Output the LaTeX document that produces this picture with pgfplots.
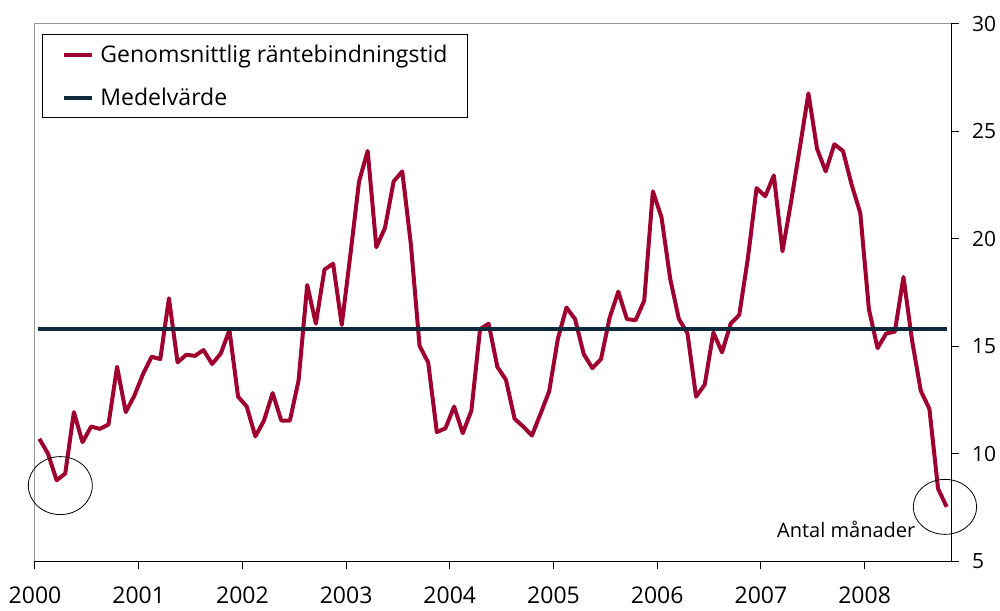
\documentclass[border=0pt]{standalone}
\usepackage{fontspec}
\setmainfont{Open Sans}
\usepackage{pgfplots}
\pgfplotsset{compat=1.18}
\usepackage{pgfplotstable}
\definecolor{wine}{HTML}{9E0030}
\definecolor{navy}{HTML}{0D2A3C}
\pgfplotstableread{
m y
0.5 10.69
1.5 10.00
2.5 8.76
3.5 9.07
4.5 11.93
5.5 10.53
6.5 11.26
7.5 11.15
8.5 11.35
9.5 14.04
10.5 11.93
11.5 12.70
12.5 13.70
13.5 14.51
14.5 14.40
15.5 17.23
16.5 14.25
17.5 14.60
18.5 14.55
19.5 14.82
20.5 14.17
21.5 14.66
22.5 15.75
23.5 12.65
24.5 12.19
25.5 10.80
26.5 11.54
27.5 12.82
28.5 11.54
29.5 11.54
30.5 13.40
31.5 17.85
32.5 16.05
33.5 18.57
34.5 18.84
35.5 15.99
36.5 19.27
37.5 22.67
38.5 24.09
39.5 19.61
40.5 20.51
41.5 22.67
42.5 23.14
43.5 19.73
44.5 15.02
45.5 14.24
46.5 11.00
47.5 11.18
48.5 12.19
49.5 10.95
50.5 12.00
51.5 15.79
52.5 16.05
53.5 14.04
54.5 13.43
55.5 11.62
56.5 11.26
57.5 10.84
58.5 11.85
59.5 12.90
60.5 15.33
61.5 16.80
62.5 16.26
63.5 14.63
64.5 13.98
65.5 14.40
66.5 16.33
67.5 17.54
68.5 16.26
69.5 16.21
70.5 17.12
71.5 22.21
72.5 21.00
73.5 18.15
74.5 16.28
75.5 15.60
76.5 12.65
77.5 13.21
78.5 15.64
79.5 14.71
80.5 16.05
81.5 16.46
82.5 19.11
83.5 22.36
84.5 21.98
85.5 22.95
86.5 19.42
87.5 21.74
88.5 24.22
89.5 26.77
90.5 24.19
91.5 23.14
92.5 24.40
93.5 24.09
94.5 22.52
95.5 21.20
96.5 16.72
97.5 14.91
98.5 15.59
99.5 15.68
100.5 18.22
101.5 15.25
102.5 12.93
103.5 12.08
104.5 8.37
105.5 7.52
}\rantedata
\begin{document}
\begin{tikzpicture}
\path[use as bounding box] (0,0) rectangle (1000pt,610pt);
\begin{axis}[
  at={(35pt,49pt)}, anchor=south west,
  scale only axis, width=916pt, height=537pt,
  xmin=0, xmax=106, ymin=5, ymax=30,
  axis x line*=bottom, axis y line*=right,
  axis line style={black, line width=1pt},
  xtick={0,12,24,36,48,60,72,84,96},
  xticklabels={2000,2001,2002,2003,2004,2005,2006,2007,2008},
  ytick={5,10,15,20,25,30},
  tick align=outside, major tick length=8pt,
  tick style={black, line width=1pt},
  minor tick num=0,
  /pgf/number format/assume math mode=true,
  ticklabel style={text=black},
  xticklabel style={font=\fontsize{23}{26}\selectfont, anchor=base, inner sep=0pt, yshift=-34pt},
  yticklabel style={font=\fontsize{21}{24}\selectfont, anchor=west, inner sep=0pt, xshift=13pt},
  clip=false,
  legend cell align=left,
  legend image code/.code={\draw[#1, line width=4pt] (0pt,0pt) -- (28pt,0pt);},
  legend style={at={(axis description cs:0.0076,0.981)}, anchor=north west,
    draw=black, line width=1pt, fill=white,
    font=\fontsize{23}{26}\selectfont,
    inner xsep=20pt, inner ysep=10.5pt,
    nodes={inner sep=0pt},
    row sep=24pt, /tikz/column sep=6pt},
]
\draw[gray!80, line width=1pt] (rel axis cs:0,0) -- (rel axis cs:0,1) -- (rel axis cs:1,1);
\addplot[wine, line width=4pt, line join=round] table[x=m, y=y] {\rantedata};
\addlegendentry{Genomsnittlig räntebindningstid}
\addplot[navy, line width=4pt] coordinates {(0.4,15.8) (105.5,15.8)};
\addlegendentry{Medelvärde}
\draw[black, line width=0.8pt] (axis cs:2.93,8.51) ellipse [x radius=32pt, y radius=29pt];
\draw[black, line width=0.8pt] (axis cs:105.3,7.52) ellipse [x radius=31.7pt, y radius=27.5pt];
\node[anchor=base east, inner sep=0pt, font=\fontsize{20}{24}\selectfont] at (axis cs:101.9,6.08) {Antal månader};
\end{axis}
\end{tikzpicture}
\end{document}
